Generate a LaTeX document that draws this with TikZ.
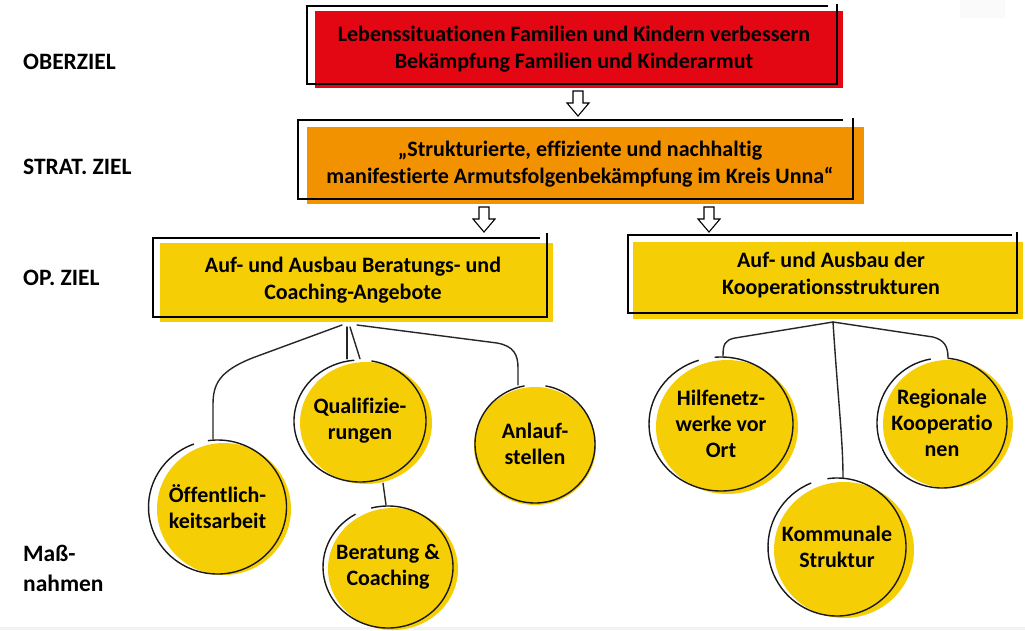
\documentclass[tikz,border=0pt]{standalone}
\usepackage{fontspec}
\setmainfont{Carlito}[Ligatures=NoCommon]
\usetikzlibrary{backgrounds}
\definecolor{cred}{RGB}{227,6,19}
\definecolor{corange}{RGB}{243,146,0}
\definecolor{cyellow}{RGB}{246,206,5}
\definecolor{cstrip}{RGB}{242,242,242}
\definecolor{cfaint}{RGB}{250,250,250}
\tikzset{
  boxtext/.style={align=center, font=\bfseries\fontsize{22}{27}\selectfont, inner sep=0pt},
  lbl/.style={anchor=west, align=left, font=\bfseries\fontsize{23.5}{30}\selectfont, inner sep=0pt},
  frame/.style={line width=1.3pt, black},
  conn/.style={line width=1.4pt, black!85, line cap=round},
  ring/.style={line width=1.4pt, black!90},
  blockarrow/.style={line width=1.1pt, fill=white, draw=black, line join=miter},
  ctext/.style={align=center, font=\bfseries\fontsize{22}{26}\selectfont, inner sep=0pt}
}
\newcommand{\hollowarrow}[1]{%
  \draw[blockarrow] ([shift={(-5,0)}]#1) -- ([shift={(5,0)}]#1) -- ([shift={(5,12)}]#1) -- ([shift={(11,12)}]#1) -- ([shift={(0,25)}]#1) -- ([shift={(-11,12)}]#1) -- ([shift={(-5,12)}]#1) -- cycle;}
\begin{document}
\begin{tikzpicture}[x=1pt,y=-1pt]
\useasboundingbox (0,0) rectangle (1025,630);
\fill[white] (0,0) rectangle (1025,630);
\fill[cstrip] (0,627) rectangle (1025,630);
\fill[cfaint] (960,0) rectangle (1005,18);

% ---------- labels ----------
\node[lbl] (l1) at (23,62) {OBERZIEL};
\node[lbl] (l2) at (23,167) {STRAT. ZIEL};
\node[lbl] (l3) at (23,278) {OP. ZIEL};
\node[lbl] (l4) at (23,568) {Maß-\\nahmen};

% ---------- Oberziel ----------
\fill[cred] (315,11) rectangle (843,88);
\draw[frame] (828,6) -- (307,6) -- (307,84) -- (837,84) -- (837,4);
\node[boxtext] (ober) at (574,49) {Lebenssituationen Familien und Kindern verbessern\\Bekämpfung Familien und Kinderarmut};

% ---------- Strat. Ziel ----------
\fill[corange] (307,127) rectangle (864,204);
\draw[frame] (843,120) -- (298,120) -- (298,199) -- (853,199) -- (853,118);
\node[boxtext] (strat) at (580,164) {„Strukturierte, effiziente und nachhaltig\\manifestierte Armutsfolgenbekämpfung im Kreis Unna“};

% ---------- Op. Ziele ----------
\fill[cyellow] (160,243) rectangle (553,322);
\draw[frame] (540,238) -- (153,238) -- (153,317) -- (547,317) -- (547,233);
\node[boxtext] (opl) at (353,280) {Auf- und Ausbau Beratungs- und\\Coaching-Angebote};

\fill[cyellow] (633,242) rectangle (1023,319);
\draw[frame] (1012,235) -- (628,235) -- (628,313) -- (1017,313) -- (1017,232);
\node[boxtext] (opr) at (831,275) {Auf- und Ausbau der\\Kooperationsstrukturen};

% ---------- block arrows ----------
\coordinate (a1) at (578,91);
\coordinate (a2) at (484,207);
\coordinate (a3) at (709,207);
\hollowarrow{a1}
\hollowarrow{a2}
\hollowarrow{a3}

% ---------- circles (fills) ----------
\fill[cyellow] (224,509) ellipse [x radius=67, y radius=66];
\fill[cyellow] (366,423) ellipse [x radius=66, y radius=61];
\fill[cyellow] (393,569) ellipse [x radius=65, y radius=61];
\fill[cyellow] (535,446) ellipse [x radius=61, y radius=59];
\fill[cyellow] (727,427) ellipse [x radius=71, y radius=67];
\fill[cyellow] (844,550) ellipse [x radius=70, y radius=68];
\fill[cyellow] (948,424) ellipse [x radius=65, y radius=64];

% ---------- circle nodes ----------
\node[ctext, circle, minimum size=136pt] (oe) at (217.5,507) {Öffentlich-\\keitsarbeit};
\node[ctext, circle, minimum size=124pt] (qu) at (360,421) {Qualifizie-\\rungen};
\node[ctext, circle, minimum size=124pt] (be) at (388,567) {Beratung \&\\Coaching};
\node[ctext, circle, minimum size=118pt] (an) at (535,444) {Anlauf-\\stellen};
\node[ctext, circle, minimum size=136pt] (hi) at (721,424) {Hilfenetz-\\werke vor\\Ort};
\node[ctext, circle, minimum size=138pt] (ko) at (837,547) {Kommunale\\Struktur};
\node[ctext, circle, minimum size=130pt] (re) at (942,423) {Regionale\\Kooperatio\\nen};

% ---------- rings (hand drawn outlines with small gaps) ----------
\draw[ring] ([shift={(262:69 and 67)}]oe.center) arc[start angle=262, end angle=610, x radius=69, y radius=67];
\draw[ring] ([shift={(280:66 and 61)}]qu.center) arc[start angle=280, end angle=625, x radius=66, y radius=61];
\draw[ring] ([shift={(255:65 and 61)}]be.center) arc[start angle=255, end angle=600, x radius=65, y radius=61];
\draw[ring] ([shift={(280:60 and 59)}]an.center) arc[start angle=280, end angle=620, x radius=60, y radius=59];
\draw[ring] ([shift={(265:72 and 67)}]hi.center) arc[start angle=265, end angle=612, x radius=72, y radius=67];
\draw[ring] ([shift={(262:69 and 69)}]ko.center) arc[start angle=262, end angle=608, x radius=69, y radius=69];
\draw[ring] ([shift={(275:65 and 65)}]re.center) arc[start angle=275, end angle=620, x radius=65, y radius=65];

% ---------- connectors ----------
\coordinate (rl1) at (342,325);
\coordinate (rl2) at (347,327);
\coordinate (rl3) at (350,327);
\coordinate (rl4) at (357,325);
\coordinate (rr) at (833,322);

\draw[conn] (rl1) -- (255,357) .. controls (218,371) and (213,385) .. (213,405) -- (oe.north -| 213,0);
\draw[conn] (rl2) -- (qu.north -| 347,0);
\draw[conn] (rl3) -- (qu.north -| 360,0);
\draw[conn] (rl4) -- (497,343) .. controls (514,346) and (518,355) .. (518,368) -- (an.north -| 518,0);
\draw[conn] (qu.south -| 383,0) -- (be.north -| 386,0);

\draw[conn] (rr) -- (735,338) .. controls (725,340) and (723,344) .. (hi.north -| 723,0);
\draw[conn] (rr) .. controls (838,400) and (843,440) .. (ko.north -| 843,0);
\draw[conn] (rr) -- (933,337) .. controls (944,340) and (948,346) .. (re.north -| 948,0);
\end{tikzpicture}
\end{document}
